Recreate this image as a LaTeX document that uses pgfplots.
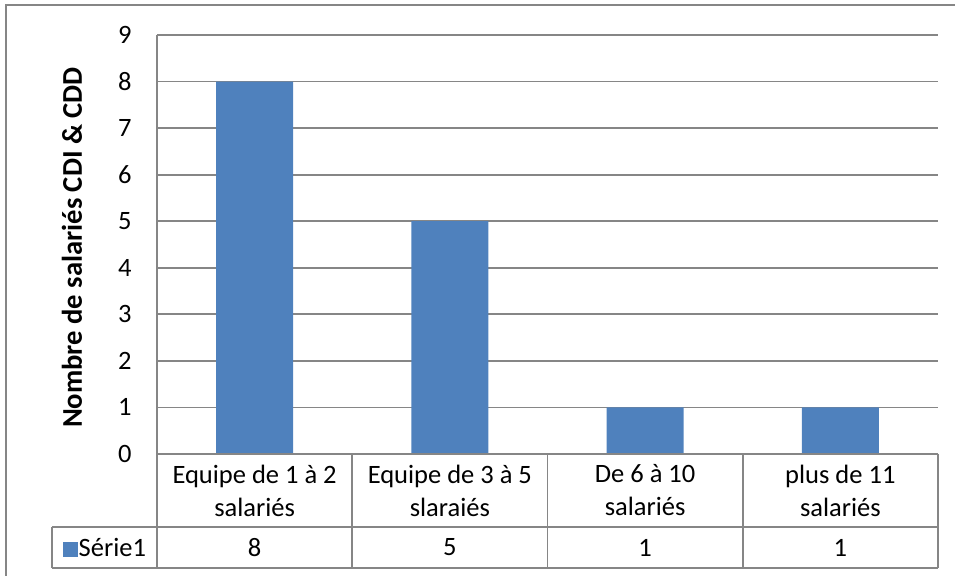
\documentclass[border=0pt]{standalone}
\usepackage{pgfplots}
\pgfplotsset{compat=1.18}
\usepackage{fontspec}
\setmainfont{Carlito}
\definecolor{barblue}{HTML}{4F81BD}
\definecolor{linegray}{HTML}{868686}

\begin{document}
\begin{tikzpicture}[font=\fontsize{13.25}{16.5}\selectfont]
\begin{axis}[
    name=ax,
    scale only axis,
    width=390.5pt, height=209.5pt,
    ybar, bar width=38.5pt,
    xmin=-0.5, xmax=3.5,
    ymin=0, ymax=9,
    ytick={0,...,9},
    xtick=data,
    xticklabels={{Equipe de 1 à 2\\salariés},{Equipe de 3 à 5\\slaraiés},{De 6 à 10\\salariés},{plus de 11\\salariés}},
    xticklabel style={align=center, anchor=center, inner sep=0pt, yshift=-18.25pt},
    yticklabel style={anchor=east, inner sep=0pt, xshift=-12.5pt},
    /pgf/number format/assume math mode=true,
    major tick length=0pt,
    axis lines*=left,
    axis line style={draw=linegray, line width=0.9pt, -},
    ymajorgrids,
    grid style={draw=linegray, line width=0.9pt},
    ylabel={\bfseries Nombre de salariés CDI \& CDD},
    ylabel style={at={(axis description cs:0,0.5)}, anchor=center, rotate=0,
        yshift=42.5pt, xshift=-1.5pt, font=\fontsize{14.3}{16.5}\selectfont},
    clip=false,
    nodes near coords,
    visualization depends on={rawy \as \rawy},
    every node near coord/.append style={anchor=center, text=black,
        yshift={-(\rawy*23.2778+46.75)*1pt}},
]
\addplot[fill=barblue, draw=none] coordinates {(0,8) (1,5) (2,1) (3,1)};
\end{axis}
\begin{scope}[shift={(ax.south west)}, x=0.5pt, y=0.5pt]
\useasboundingbox (-157,454) rectangle (798,-122);
\draw[linegray, line width=1pt] (-151,449) rectangle (820,-140);
\begin{scope}[linegray, line width=0.9pt]
\draw (0,0) -- (781,0);
\draw (-105,-73) -- (781,-73);
\draw (-105,-114) -- (781,-114);
\draw (-105,-73) -- (-105,-114);
\foreach \xx in {0,195.25,390.5,585.75,781} \draw (\xx,0) -- (\xx,-114);
\end{scope}
\node at (-52.5,-93.5) {\textcolor{barblue}{\rule{7.5pt}{7.5pt}}\kern0.3pt Série1};
\end{scope}
\end{tikzpicture}
\end{document}
